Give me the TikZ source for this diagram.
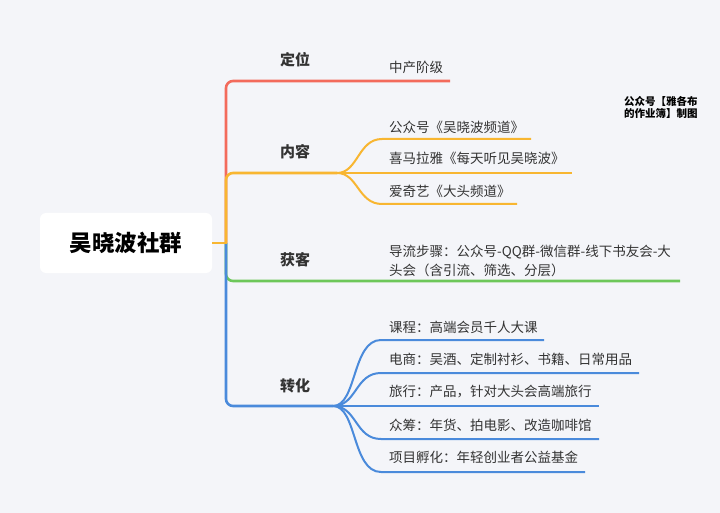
\documentclass[tikz,border=0pt]{standalone}
\usepackage{fontspec}
\newfontfamily\cjk{Noto Sans CJK SC}
\definecolor{bg}{HTML}{F4F5F9}
\definecolor{cred}{HTML}{F36B5C}
\definecolor{corange}{HTML}{F8B631}
\definecolor{cgreen}{HTML}{6DC75A}
\definecolor{cblue}{HTML}{4A8ADB}
\definecolor{ctext}{HTML}{333333}
\begin{document}
\begin{tikzpicture}[x=1pt,y=-1pt,
  trunk/.style={line width=2.6pt, rounded corners=7pt},
  twig/.style={line width=2pt},
  lbl/.style={font=\cjk\bfseries\fontsize{15}{18}\selectfont, text=ctext},
  leaf/.style={font=\cjk\fontsize{13.5}{19}\selectfont, text=ctext, anchor=west, inner sep=0pt, align=left},
]
\fill[bg] (0,0) rectangle (720,513);
\useasboundingbox (0,0) rectangle (720,513);

% root
\node[fill=white, rounded corners=6pt, minimum width=172pt, minimum height=60pt, inner sep=0pt,
      font=\cjk\bfseries\fontsize{22.5}{26}\selectfont, text=black] (root) at (126,243) {吴晓波社群};

% branch labels
\node[lbl] (dw) at (295,60) {定位};
\node[lbl] (nr) at (295,152) {内容};
\node[lbl] (hk) at (295,260) {获客};
\node[lbl] (zh) at (295,386) {转化};

% junction / ends
\coordinate (J) at (226,243);
\coordinate (dwE) at (450,81);
\coordinate (nrF) at (337,173);
\coordinate (hkE) at (680,281);
\coordinate (zhF) at (333,406);

% leaves
\node[leaf] (l1) at (389,67) {中产阶级};
\node[leaf] (n1) at (389,127) {公众号《吴晓波频道》};
\node[leaf] (n2) at (389,158) {喜马拉雅《每天听见吴晓波》};
\node[leaf] (n3) at (389,191) {爱奇艺《大头频道》};
\node[leaf] (h1) at (389,260.5) {导流步骤：公众号-QQ群-微信群-线下书友会-大\\头会（含引流、筛选、分层）};
\node[leaf] (z1) at (389,327) {课程：高端会员千人大课};
\node[leaf] (z2) at (389,359.5) {电商：吴酒、定制衬衫、书籍、日常用品};
\node[leaf] (z3) at (389,392) {旅行：产品，针对大头会高端旅行};
\node[leaf] (z4) at (389,425) {众筹：年货、拍电影、改造咖啡馆};
\node[leaf] (z5) at (389,457.5) {项目孵化：年轻创业者公益基金};

% watermark
\node[font=\cjk\bfseries\fontsize{10.5}{11.5}\selectfont, align=left, anchor=west, inner sep=0pt, text=black] (wm) at (624,107.5) {公众号【雅各布\\的作业簿】制图};

% trunk connectors
\draw[trunk, cgreen] (J) -- (226,281) -- (hkE);
\draw[trunk, cblue] (J) -- (226,406) -- (zhF);
\draw[trunk, cred] (J) -- (226,81) -- (dwE);
\draw[trunk, corange] (J) -- (226,173) -- (nrF);
\draw[line width=2.6pt, corange] (root.east) -- ([xshift=1.3pt]J);

% content children
\draw[twig, corange] (nrF) .. controls (358,173) and (358,139) .. (382,139) -- (531,139);
\draw[twig, corange] (nrF) -- (572,173);
\draw[twig, corange] (nrF) .. controls (358,173) and (358,204) .. (382,204) -- (517,204);

% conversion children
\draw[twig, cblue] (zhF) .. controls (357,406) and (352,340) .. (381,340) -- (544,340);
\draw[twig, cblue] (zhF) .. controls (357,406) and (355,373) .. (381,373) -- (639,373);
\draw[twig, cblue] (zhF) -- (599,406);
\draw[twig, cblue] (zhF) .. controls (357,406) and (355,439) .. (381,439) -- (599,439);
\draw[twig, cblue] (zhF) .. controls (357,406) and (352,472) .. (381,472) -- (585,472);
\end{tikzpicture}
\end{document}
